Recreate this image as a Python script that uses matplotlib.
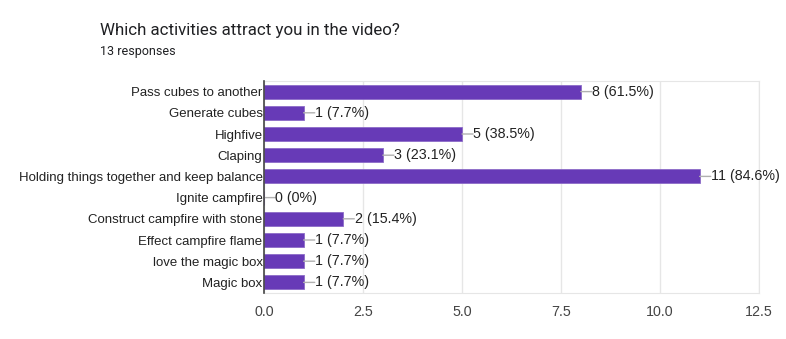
import matplotlib
matplotlib.use("Agg")
import matplotlib.pyplot as plt

# ── data ───────────────────────────────────────────────────────────────────────
activities = [
    "Pass cubes to another",
    "Generate cubes",
    "Highfive",
    "Claping",
    "Holding things together and keep balance",
    "Ignite campfire",
    "Construct campfire with stone",
    "Effect campfire flame",
    "love the magic box",
    "Magic box",
]
counts = [8, 1, 5, 3, 11, 0, 2, 1, 1, 1]
percents = ["61.5%", "7.7%", "38.5%", "23.1%", "84.6%", "0%", "15.4%", "7.7%", "7.7%", "7.7%"]
x_ticks = [0, 2.5, 5, 7.5, 10, 12.5]

plt.rcParams["font.family"] = ["Liberation Sans", "DejaVu Sans"]

fig = plt.figure(figsize=(7.86, 3.39), dpi=100)
ax = fig.add_axes([264 / 786, 1 - 293 / 339, 495 / 786, 212 / 339])

ypos = list(range(len(activities)))
ax.barh(ypos, counts, height=0.66, color="#673ab7", edgecolor="#8c6bc8", linewidth=0.6, zorder=3)

# leader lines + value labels
for y, c, p in zip(ypos, counts, percents):
    ax.annotate("", xy=(c, y), xytext=(8, 0), textcoords="offset points",
                arrowprops=dict(arrowstyle="-", color="#b0b0b0", lw=1.0,
                                shrinkA=0, shrinkB=0), zorder=4)
    ax.annotate(f"{c} ({p})", xy=(c, y), xytext=(8.2, 0), textcoords="offset points",
                ha="left", va="center", fontsize=10.3, color="#222222", zorder=5)

ax.set_ylim(len(activities) - 0.5, -0.5)
ax.set_xlim(0, 12.5)
ax.set_yticks(ypos)
ax.set_yticklabels(activities, fontsize=9.5, color="#222222")
ax.set_xticks(x_ticks)
ax.set_xticklabels([f"{t:.1f}" for t in x_ticks], fontsize=10.3, color="#444444")
ax.tick_params(axis="both", length=0)
ax.tick_params(axis="y", pad=1)
ax.tick_params(axis="x", pad=9)

ax.grid(axis="x", color="#e6e6e6", lw=1, zorder=0)
for side in ["top", "right", "bottom"]:
    ax.spines[side].set_color("#e6e6e6")
ax.spines["left"].set_color("#444444")
ax.spines["left"].set_linewidth(1.2)
ax.spines["left"].set_zorder(6)

fig.text(100 / 786, 1 - 30 / 339, "Which activities attract you in the video?",
         fontsize=12.2, family="Roboto", color="#202124", va="center")
fig.text(100 / 786, 1 - 51 / 339, "13 responses",
         fontsize=9, family="Roboto", color="#202124", va="center")

fig.savefig("out.png", dpi=100)
